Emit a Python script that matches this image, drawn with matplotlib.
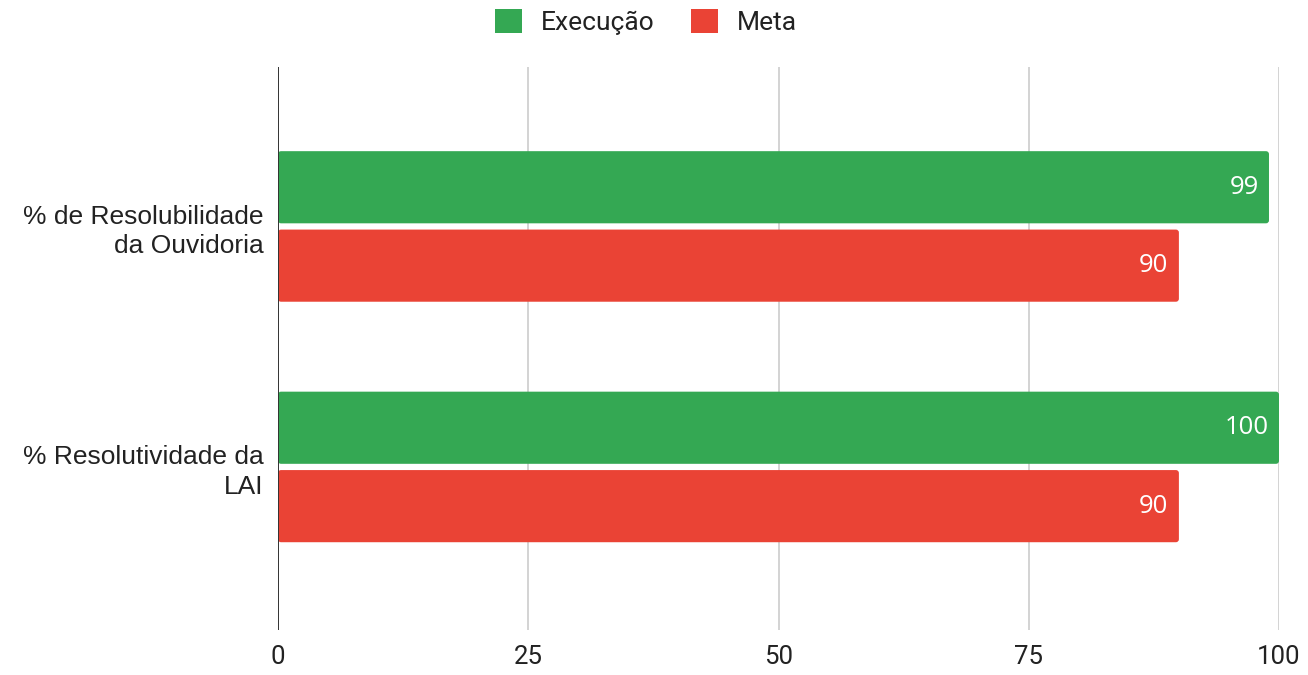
import matplotlib
matplotlib.use("Agg")
import matplotlib.pyplot as plt
from matplotlib.patches import FancyBboxPatch, Patch

categories = ["% de Resolubilidade\nda Ouvidoria", "% Resolutividade da\nLAI"]
execucao = [99, 100]
meta = [90, 90]
series_names = ["Execução", "Meta"]
x_ticks = [0, 25, 50, 75, 100]

GREEN = "#34A853"
RED = "#EA4335"

fig = plt.figure(figsize=(13.08, 6.75), dpi=100)
ax = fig.add_axes([278 / 1308, 45 / 675, (1279 - 278) / 1308, (630 - 67) / 675])

ypos = list(range(len(categories)))
bar_h = 0.30
offset = 0.163

ax.set_xlim(0, 100)
ax.set_ylim(1.678, -0.663)

# pixels per data unit, used to keep corner rounding circular
px_x = (1279 - 278) / 100
px_y = (630 - 67) / (1.678 + 0.663)
corner_px = 3.0


def rounded_bar(y, width, color):
    rs = corner_px / px_x
    patch = FancyBboxPatch(
        (0, y - bar_h / 2), width, bar_h,
        boxstyle=f"round,pad=0,rounding_size={rs}",
        mutation_aspect=px_x / px_y,
        facecolor=color, edgecolor="none", zorder=3,
    )
    ax.add_patch(patch)


for i, y in enumerate(ypos):
    for val, off, col in ((execucao[i], -offset, GREEN), (meta[i], offset, RED)):
        rounded_bar(y + off, val, col)
        ax.annotate(
            f"{val}", xy=(val, y + off), xytext=(-7.5, 0),
            textcoords="offset points", ha="right", va="center",
            color="white", fontsize=18.5, family="Open Sans", zorder=4,
        )

ax.set_xticks(x_ticks)
ax.set_xticklabels([str(t) for t in x_ticks], family="Roboto", fontsize=18.5, color="#222222")
ax.tick_params(axis="x", length=0, pad=11)
ax.set_yticks(ypos)
ax.set_yticklabels(categories, family="Liberation Sans", fontsize=19, color="#222222",
                   ha="right", linespacing=1.27)
ax.tick_params(axis="y", length=0, pad=10.5)

for s in ax.spines.values():
    s.set_visible(False)

ax.grid(axis="x", color="#CCCCCC", linewidth=1.2, zorder=0)
ax.set_axisbelow(True)
ax.axvline(0, color="#333333", linewidth=1.4, zorder=5)

handles = [Patch(facecolor=GREEN, edgecolor="none"), Patch(facecolor=RED, edgecolor="none")]
leg = fig.legend(
    handles, series_names, loc="center", bbox_to_anchor=(0.5 - 8 / 1308, 1 - 22 / 675),
    ncol=2, frameon=False, prop={"family": "Roboto", "size": 19},
    handlelength=1.0, handleheight=1.0, handletextpad=0.72, columnspacing=1.4,
)
for t in leg.get_texts():
    t.set_color("#222222")

fig.savefig("out.png", dpi=100)
